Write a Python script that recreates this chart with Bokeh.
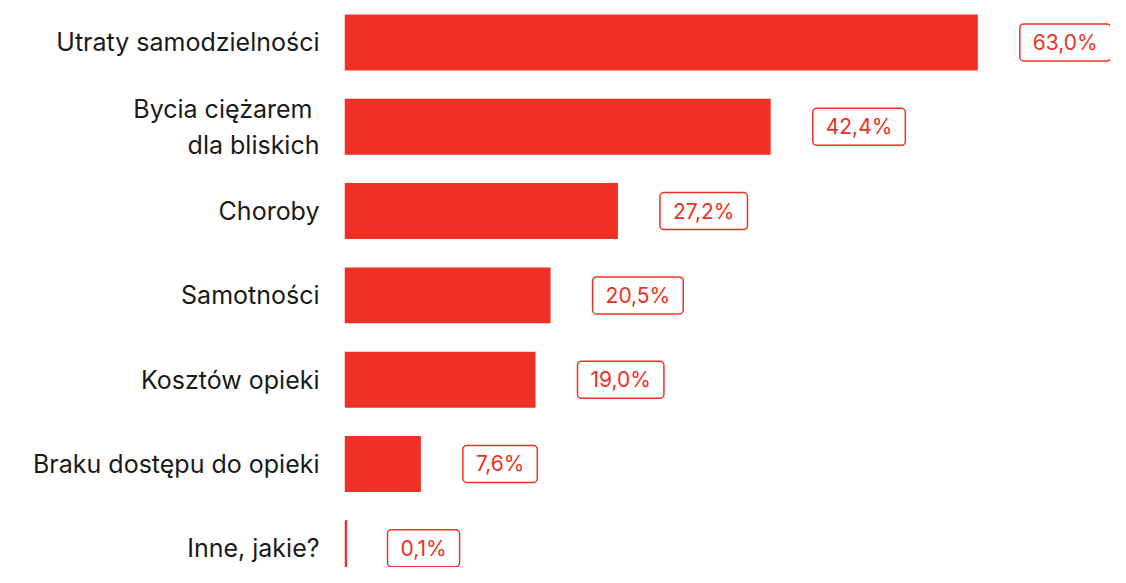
from bokeh.plotting import figure
from bokeh.models import ColumnDataSource, Range1d, FixedTicker
from bokeh.core.properties import value
from bokeh.embed import file_html
from bokeh.resources import INLINE

categories = ["Utraty samodzielności", "Bycia ciężarem \ndla bliskich", "Choroby",
              "Samotności", "Kosztów opieki", "Braku dostępu do opieki", "Inne, jakie?"]
values = [63.0, 42.4, 27.2, 20.5, 19.0, 7.6, 0.1]
value_labels = ["63,0%", "42,4%", "27,2%", "20,5%", "19,0%", "7,6%", "0,1%"]

RED = "#EE3124"
FONT = "Inter"

pos = list(range(len(categories)))
# minimum visible width for very small bars
bar_vals = [max(v, 0.25) for v in values]

src = ColumnDataSource(dict(y=pos, v=values, bv=bar_vals, lab=value_labels))

p = figure(width=1110, height=567, output_backend="svg", toolbar_location=None,
           x_range=Range1d(0, 76.2), y_range=Range1d(6.228, -0.498),
           min_border_left=344, min_border_right=0, min_border_top=0, min_border_bottom=0)

p.hbar(y="y", left=0, right="bv", height=0.664, source=src, color=RED, line_color=None)

p.text(x="v", y="y", text="lab", source=src, x_offset=42,
       text_align="left", text_baseline="middle",
       text_color=RED, text_font=value(FONT), text_font_size="21px",
       background_fill_color="white", border_line_color=RED,
       border_line_width=1.5, border_radius=4, padding=[13, 6])

p.xaxis.visible = False
p.xgrid.visible = False
p.ygrid.visible = False
p.outline_line_color = None

ax = p.yaxis[0]
ax.ticker = FixedTicker(ticks=pos)
ax.major_label_overrides = {i: c for i, c in zip(pos, categories)}
ax.axis_line_color = None
ax.major_tick_line_color = None
ax.minor_tick_line_color = None
ax.major_label_standoff = 19
ax.major_label_text_font = FONT
ax.major_label_text_font_size = "25px"
ax.major_label_text_line_height = 1.2
ax.major_label_text_color = "#1a1a1a"

open("out.html", "w").write(file_html(p, INLINE))
